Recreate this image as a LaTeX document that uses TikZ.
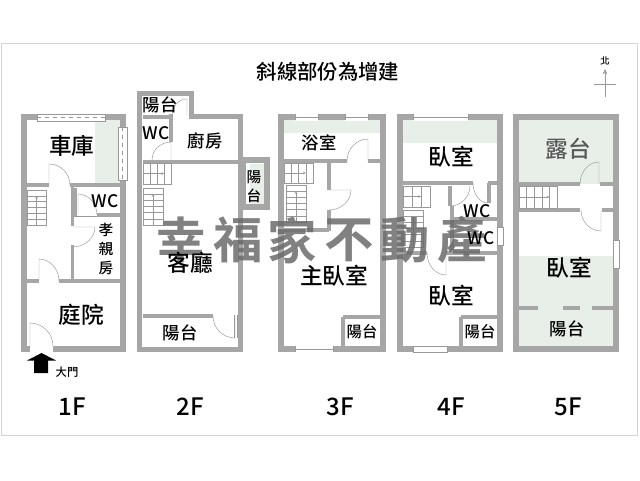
\documentclass[tikz,border=0pt]{standalone}
\usepackage{fontspec}
\setmainfont[BoldFont={Noto Sans CJK TC Bold}]{Noto Sans CJK TC Medium}
\usetikzlibrary{calc,arrows.meta}
\definecolor{wallc}{HTML}{A6A6A6}
\definecolor{hatchc}{HTML}{E8EEE8}
\definecolor{framec}{HTML}{D4D4D4}
\definecolor{thinc}{HTML}{999999}
\tikzset{
 x=0.75pt,y=-0.75pt,
 wall/.style={draw=wallc,line width=4.4pt,line cap=butt,line join=miter},
 iwall/.style={draw=wallc,line width=2.4pt,line cap=butt},
 thin line/.style={draw=thinc,line width=0.35pt},
 hatcharea/.style={fill=hatchc,draw=none},
 winw/.style={fill=white,draw=thinc,line width=0.3pt},
 lab/.style={inner sep=0pt,text=black},
 big/.style={lab,font=\fontsize{17pt}{18pt}\selectfont},
 mid/.style={lab,font=\fontsize{13pt}{15pt}\selectfont},
 small/.style={lab,font=\fontsize{11.5pt}{13pt}\selectfont},
 wcs/.style={lab,font=\fontsize{13pt}{13pt}\selectfont,text height=9pt,text depth=0pt},
 wm/.style={inner sep=0pt,text=black!58,opacity=0.85,font=\fontsize{37pt}{38pt}\selectfont\bfseries},
 floor/.style={lab,font=\fontsize{18pt}{20pt}\selectfont},
}
\newcommand\door[3]{\draw[thin line] (#1) -- (#2) .. controls ($(#2)+0.55*(#3)-0.55*(#1)$) and ($(#3)+0.55*(#2)-0.55*(#1)$) .. (#3);}
\newcommand\stairsV[5]{% x1 y1 x2 y2 n
 \draw[thin line,fill=white] (#1,#2) rectangle (#3,#4);
 \pgfmathsetmacro\stp{(#4-#2)/#5}
 \foreach \i in {1,...,#5}{\draw[thin line] (#1,#2+\i*\stp) -- (#3,#2+\i*\stp);}
 \draw[thin line,-{Stealth[length=2pt,width=2pt]}] ({(#1+#3)/2},#4) -- ({(#1+#3)/2},#2+\stp);
}
\newcommand\stairsH[5]{% x1 y1 x2 y2 n
 \draw[thin line,fill=white] (#1,#2) rectangle (#3,#4);
 \pgfmathsetmacro\stp{(#3-#1)/#5}
 \foreach \i in {1,...,#5}{\draw[thin line] (#1+\i*\stp,#2) -- (#1+\i*\stp,#4);}
 \draw[thin line,-{Stealth[length=2pt,width=2pt]}] (#1,{(#2+#4)/2}) -- (#3-\stp,{(#2+#4)/2});
}
\newcommand\winh[3]{% x1 x2 yc : white gap in a horizontal wall with a centre line
 \fill[white] (#1,#3-3.5) rectangle (#2,#3+3.5);
 \draw[thin line] (#1,#3) -- (#2,#3);
 \draw[thin line] (#1,#3-3) -- (#1,#3+3);
 \draw[thin line] (#2,#3-3) -- (#2,#3+3);
}
\begin{document}
\begin{tikzpicture}
\useasboundingbox (0,0) rectangle (640,480);
\fill[white] (0,0) rectangle (640,480);
\draw[framec,line width=0.6pt] (1,435) -- (1,43) -- (637,43) -- (637,435) -- cycle;

\node[lab,font=\fontsize{15.3pt}{17pt}\selectfont] (title) at (328,72) {斜線部份為增建};

% compass
\node[lab,font=\fontsize{7pt}{8pt}\selectfont] (north) at (605,61) {北};
\coordinate (nt) at (605,69);
\coordinate (nb) at (605,97);
\coordinate (nl) at (594,84);
\coordinate (nr) at (616,84);
\draw[thinc,line width=0.5pt,-{Stealth[length=4pt,width=3.5pt]}] (nb) -- (nt);
\draw[thinc,line width=0.5pt] (nl) -- (nr);

%% ---------- 1F
\fill[hatcharea] (95,120) rectangle (120,183);
\draw[wall] (24,117) rectangle (123,349);
\fill[white] (30,344) rectangle (53,353);
\draw[winw] (37,114) rectangle (105,121);
\draw[thin line,dashed] (37,117.5) -- (105,117.5);
\draw[winw] (118,127) rectangle (127,180);
\draw[thin line,dashed] (122.5,127) -- (122.5,180);
\draw[iwall] (27,185) -- (49,185);
\draw[iwall] (70,185) -- (120,185);
\draw[iwall] (72.5,185) -- (72.5,226);
\draw[iwall] (72.5,245) -- (72.5,281);
\draw[iwall] (27,281) -- (39,281);
\draw[iwall] (59,281) -- (120,281);
\draw[iwall] (75.5,188) -- (75.5,216);
\draw[iwall] (97,215) -- (120,215);
\draw[thin line] (74,216) -- (97,216);
\door{49,185}{49,164}{70,185}
\door{39,281}{39,259}{59,281}
\door{30,346}{30,323}{53,346}
\door{72.5,227}{95,227}{72.5,247}
\door{78,215}{78,194}{97,215}
\stairsV{27}{190}{46}{225}{6}
\node[big] (a1) at (72,146) {車庫};
\node[wcs] (a2) at (105,201) {WC};
\node[lab,align=center,font=\fontsize{11pt}{14pt}\selectfont] (a3) at (106,249) {孝\\親\\房};
\node[big] (a4) at (81,315) {庭院};
\fill[black] (41.5,353) -- (56,360.5) -- (48,360.5) -- (48,373) -- (34,373) -- (34,360.5) -- (27,360.5) -- cycle;
\node[lab,font=\fontsize{8.5pt}{9pt}\selectfont] (a5) at (67,372) {大門};
\node[floor] (f1) at (72,407) {1F};

%% ---------- 2F
\fill[hatcharea] (250,164) rectangle (264,204);
\draw[wall] (139.5,93.5) -- (191.5,93.5) -- (191.5,116.5) -- (240.5,116.5) -- (240.5,349.5) -- (139.5,349.5) -- cycle;
\fill[white] (173,111) rectangle (189,120);
\draw[wall] (243,160) rectangle (267,207);
\draw[iwall] (143,117) -- (171,117);
\draw[iwall] (171,114) -- (171,142);
\draw[iwall] (143,162) -- (238,162);
\draw[iwall] (143,316) -- (213,316);
\draw[thin line] (234.5,315) -- (234.5,338);
\draw[thin line] (237,315) -- (237,338);
\door{187,115}{187,99}{172,115}
\door{171,160}{171,142}{152,160}
\door{235,316}{235,338}{213,316}
\stairsH{143}{163}{171}{184}{4}
\stairsV{143}{188}{163}{225}{6}
\node[mid] (b1) at (160,105) {陽台};
\node[wcs] (b2) at (156,133) {WC};
\node[mid] (b3) at (205,141) {廚房};
\node[lab,align=center,font=\fontsize{11pt}{14pt}\selectfont] (b4) at (254,187) {陽\\台};
\node[mid] (b6) at (180,333) {陽台};
\node[floor] (f2) at (190,407) {2F};

%% ---------- 3F
\fill[hatcharea] (284,120) rectangle (380,133);
\draw[wall] (281,117) rectangle (383,349);
\winh{295}{318}{117}
\winh{345}{368}{117}
\winh{295}{333}{349}
\draw[iwall] (284,161) -- (347,161);
\draw[iwall] (368,161) -- (380,161);
\draw[iwall] (329,161) -- (329,190);
\draw[iwall] (329,210) -- (329,231);
\draw[iwall] (284,230) -- (329,230);
\draw[iwall] (343,317) -- (343,346);
\draw[iwall] (343,317) -- (380,317);
\door{368,161}{368,139}{347,161}
\door{329,190}{351,190}{329,210}
\stairsH{284}{163}{313}{183}{4}
\stairsV{286}{185}{306}{222}{6}
\node[mid] (c1) at (319,143) {浴室};
\node[small] (c3) at (362,332) {陽台};
\node[floor] (f3) at (340,407) {3F};

%% ---------- 4F
\fill[hatcharea] (403,120) rectangle (497,143);
\draw[wall] (400,117) rectangle (500,349);
\winh{413}{468}{117}
\draw[winw] (413,346) rectangle (447,352);
\draw[winw] (497,227) rectangle (503,245);
\draw[iwall] (403,183) -- (473,183);
\draw[iwall] (488,183) -- (497,183);
\draw[iwall] (489,183) -- (489,203);
\draw[iwall] (450,186) -- (450,206);
\draw[iwall] (452,206) -- (452,254);
\draw[iwall] (452,219) -- (498,219);
\draw[iwall] (403,253) -- (427,253);
\draw[iwall] (446,253) -- (497,253);
\draw[iwall] (461,317) -- (461,346);
\draw[iwall] (461,317) -- (497,317);
\door{488,183}{488,203}{473,183}
\door{450,186}{450,206}{470,186}
\door{446,253}{446,275}{427,253}
\stairsH{403}{186}{430}{207}{3}
\stairsV{403}{210}{423}{247}{6}
\node[big] (d1) at (451,157) {臥室};
\node[big] (d4) at (451,296) {臥室};
\node[small] (d5) at (480,332) {陽台};
\node[floor] (f4) at (451,407) {4F};

%% ---------- 5F
\fill[hatcharea] (519,120) rectangle (614,184);
\fill[hatcharea] (519,256) rectangle (614,346);
\draw[wall] (516,117) rectangle (616,349);
\draw[winw] (613,240) rectangle (619,268);
\draw[iwall] (519,184) -- (580,184);
\draw[iwall] (600,184) -- (614,184);
\draw[iwall] (519,210) -- (580,210);
\draw[iwall] (602,210) -- (614,210);
\draw[iwall] (519,308) -- (538,308);
\draw[iwall] (563,308) -- (580,308);
\draw[iwall] (592,308) -- (614,308);
\door{599,184}{599,162}{580,184}
\door{601,210}{601,231}{581,210}
\stairsH{519}{186}{557}{208}{5}
\node[big,text=black!65] (e1) at (568,149) {露台};
\node[big] (e2) at (569,268) {臥室};
\node[mid] (e3) at (567,329) {陽台};
\node[floor] (f5) at (568,407) {5F};

%% watermark
\node[wm] (w1) at (181,240) {幸};
\node[wm] (w2) at (238,240) {福};
\node[wm] (w3) at (292,240) {家};
\node[wm] (w4) at (349,240) {不};
\node[wm] (w5) at (405,240) {動};
\node[wm] (w6) at (462,240) {產};

%% labels lying over the watermark
\node[big] (b5) at (190,263) {客廳};
\node[big] (c2) at (334,276) {主臥室};
\node[wcs] (d2) at (477,211) {WC};
\node[wcs] (d3) at (481,238) {WC};
\end{tikzpicture}
\end{document}
